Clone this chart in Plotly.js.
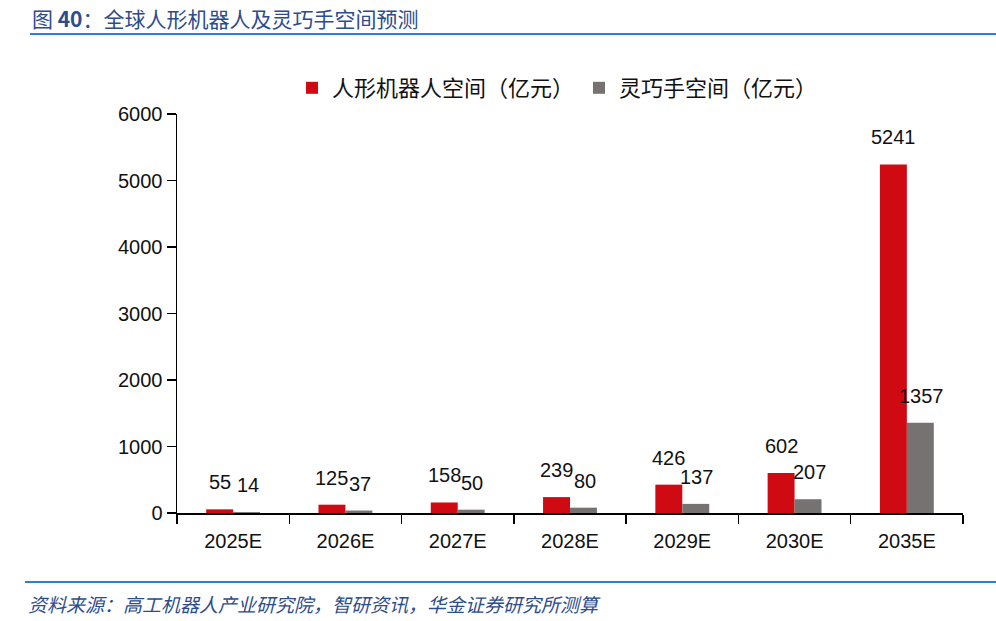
<!DOCTYPE html>
<html>
<head>
<meta charset="utf-8">
<script src="https://cdn.plot.ly/plotly-3.0.1.min.js"></script>
<style>html,body{margin:0;padding:0;background:#fff;}#chart{width:996px;height:621px;}</style>
</head>
<body>
<div id="chart"></div>
<script>
const categories = ['2025E','2026E','2027E','2028E','2029E','2030E','2035E'];
const humanoidValues = [55,125,158,239,426,602,5241];
const handValues = [14,37,50,80,137,207,1357];
const seriesNames = ['人形机器人空间（亿元）','灵巧手空间（亿元）'];
const yTicks = [0,1000,2000,3000,4000,5000,6000];

const numFont = 'Liberation Sans, Arial, sans-serif';
const cjkFont = 'Noto Sans CJK SC, sans-serif';
const blue = '#2C4C8C';
const lineBlue = '#2F80C4';

const traces = [
  {type:'bar', name:seriesNames[0], x:categories, y:humanoidValues, marker:{color:'#D00A12'}, hoverinfo:'y'},
  {type:'bar', name:seriesNames[1], x:categories, y:handValues, marker:{color:'#767272'}, hoverinfo:'y'}
];

const annotations = [];
categories.forEach((c,i)=>{
  annotations.push({x:c, y:humanoidValues[i], xref:'x', yref:'y', text:String(humanoidValues[i]), showarrow:false, xshift:-13.5, yshift:27, yanchor:'middle', font:{family:numFont,size:20,color:'#111'}});
  annotations.push({x:c, y:handValues[i], xref:'x', yref:'y', text:String(handValues[i]), showarrow:false, xshift:14.5, yshift:27, yanchor:'middle', font:{family:numFont,size:20,color:'#111'}});
});

const L=177, R=963, T=114, B=513;
const W=R-L, H=B-T;
const px = x => (x-L)/W;
const py = y => (B-y)/H;

annotations.push({xref:'paper', yref:'paper', x:px(30), y:py(18), xanchor:'left', yanchor:'middle', showarrow:false,
  text:'图 <b>40</b>：全球人形机器人及灵巧手空间预测', font:{family:cjkFont,size:21,color:blue}});
annotations.push({xref:'paper', yref:'paper', x:px(26), y:py(603), xanchor:'left', yanchor:'middle', showarrow:false,
  text:'<i>资料来源：高工机器人产业研究院，智研资讯，华金证券研究所测算</i>', font:{family:cjkFont,size:19,color:blue}});

const shapes = [
  {type:'line', xref:'paper', yref:'paper', x0:px(30), x1:px(996), y0:py(34), y1:py(34), line:{color:lineBlue,width:2}},
  {type:'line', xref:'paper', yref:'paper', x0:px(25), x1:px(996), y0:py(582), y1:py(582), line:{color:lineBlue,width:2}}
];

const layout = {
  width:996, height:621,
  margin:{l:L, r:996-R, t:T, b:621-B, pad:0},
  paper_bgcolor:'#fff', plot_bgcolor:'#fff',
  barmode:'group', bargap:0.52, bargroupgap:0,
  showlegend:true,
  legend:{orientation:'h', x:px(292), y:py(88), xanchor:'left', yanchor:'middle', font:{family:cjkFont,size:22,color:'#111'}, itemwidth:30, bgcolor:'rgba(0,0,0,0)'},
  xaxis:{type:'category', showline:true, linecolor:'#000', linewidth:1.5, ticks:'outside', tickson:'boundaries', ticklen:9, tickcolor:'#000', tickwidth:1.5, ticklabelstandoff:9, showgrid:false, zeroline:false, tickfont:{family:numFont,size:20,color:'#111'}, fixedrange:true},
  yaxis:{range:[0,6000], tickvals:yTicks, ticktext:yTicks.map(String), showline:true, linecolor:'#000', linewidth:1.5, ticks:'outside', ticklen:9, tickcolor:'#000', tickwidth:1.5, showgrid:false, zeroline:false, tickfont:{family:numFont,size:20,color:'#111'}, fixedrange:true},
  annotations:annotations,
  shapes:shapes
};

Plotly.newPlot('chart', traces, layout, {displayModeBar:false, staticPlot:true});
</script>
</body>
</html>
